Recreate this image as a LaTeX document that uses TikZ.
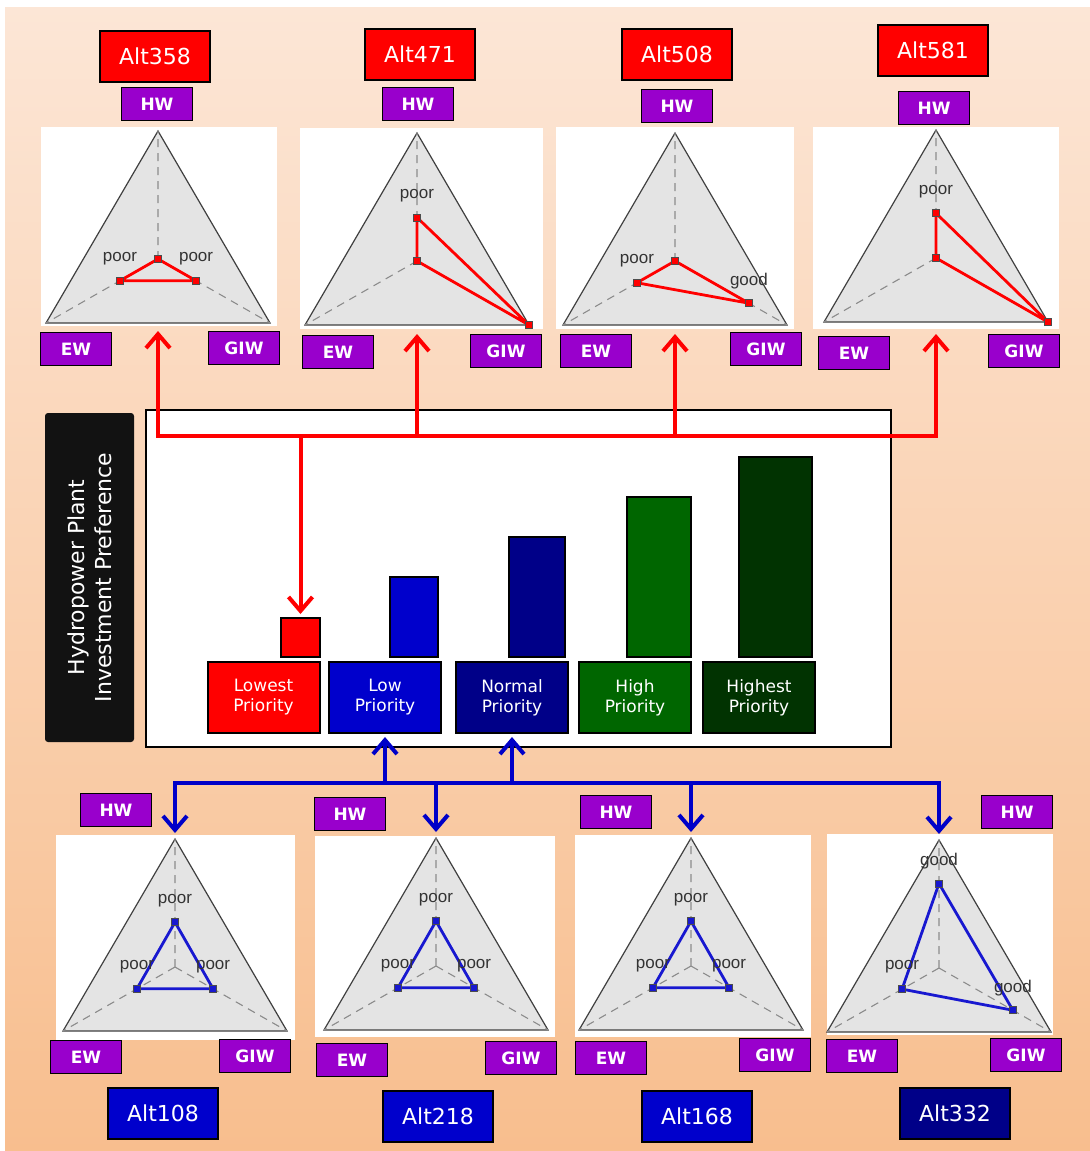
\documentclass[tikz,border=0pt]{standalone}
\usepackage{fontspec}
\setmainfont{DejaVu Sans}
\newfontfamily\radarfont{Liberation Sans}
\usetikzlibrary{arrows.meta,calc}
\definecolor{peachtop}{HTML}{FCE6D6}
\definecolor{peachbot}{HTML}{F8BE8E}
\definecolor{hwpurple}{HTML}{9900CC}
\definecolor{lowblue}{HTML}{0000CC}
\definecolor{navyblue}{HTML}{000088}
\definecolor{hgreen}{HTML}{006600}
\definecolor{dgreen}{HTML}{013301}
\definecolor{trigray}{HTML}{E4E4E4}
\definecolor{linkblue}{HTML}{0000C8}
\definecolor{labelblack}{HTML}{121212}
\definecolor{polyblue}{HTML}{1818D0}
\tikzset{
  altbox/.style={draw=black, line width=1pt, text=white, minimum width=55pt, minimum height=25.5pt, inner sep=0pt, font=\fontsize{11}{13}\selectfont},
  axisbox/.style={draw=black, line width=0.9pt, fill=hwpurple, text=white, minimum width=35.5pt, minimum height=16.5pt, inner sep=0pt, font=\bfseries\fontsize{8.5}{10}\selectfont},
  prbox/.style={draw=black, line width=1pt, text=white, minimum width=56pt, minimum height=35.5pt, inner sep=0pt, align=center, font=\fontsize{8.5}{10}\selectfont},
  barbox/.style={draw=black, line width=1pt, inner sep=0pt, anchor=south},
  tri/.style={fill=trigray, draw=black!75, line width=0.6pt},
  axisline/.style={draw=black!45, line width=0.55pt, dash pattern=on 4pt off 3pt},
  rlabel/.style={text=black!80, font=\radarfont\fontsize{8.5}{10}\selectfont, inner sep=0pt},
  marker/.style={draw=black!70, line width=0.4pt, minimum size=3.5pt, inner sep=0pt, rectangle},
  redlink/.style={draw=red, line width=2pt},
  bluelink/.style={draw=linkblue, line width=2pt},
  barb/.tip={Straight Barb[length=7pt,width=12pt]}
}
% name, apex x, apex y, panel left, panel top, panel right, panel bottom
\newcommand{\radar}[7]{%
  \fill[white] (#4,#5) rectangle (#6,#7);
  \coordinate (#1A) at (#2,#3);
  \coordinate (#1L) at ({#2-112},{#3+192});
  \coordinate (#1R) at ({#2+112},{#3+192});
  \coordinate (#1C) at (#2,{#3+128});
  \coordinate (#1top) at (#2,{#3-6});
  \coordinate (#1bot) at (#2,{#7+5});
  \filldraw[tri] (#1A) -- (#1L) -- (#1R) -- cycle;
  \draw[axisline] (#1C) -- (#1A) (#1C) -- (#1L) (#1C) -- (#1R);
}
% name, colour, HW, EW, GIW fractions
\newcommand{\radarpoly}[5]{%
  \coordinate (#1h) at ($(#1C)!#3!(#1A)$);
  \coordinate (#1e) at ($(#1C)!#4!(#1L)$);
  \coordinate (#1g) at ($(#1C)!#5!(#1R)$);
  \draw[#2, line width=1.4pt, line join=round] (#1h) -- (#1e) -- (#1g) -- cycle;
  \node[marker, fill=#2] (#1mh) at (#1h) {};
  \node[marker, fill=#2] (#1me) at (#1e) {};
  \node[marker, fill=#2] (#1mg) at (#1g) {};
}
\begin{document}
\begin{tikzpicture}[x=0.5pt,y=-0.5pt]
\useasboundingbox (0,0) rectangle (1090,1151);
\fill[white] (0,0) rectangle (1090,1151);
\shade[top color=peachtop,bottom color=peachbot] (5,7) rectangle (1090,1151);

% left title
\node[rotate=90, fill=labelblack, rounded corners=1.5pt, minimum width=164.5pt, minimum height=44.5pt, text=white, align=center, font=\fontsize{11}{13.5}\selectfont] (title) at (89.5,577.5) {Hydropower Plant\\Investment Preference};

% chart box
\node[draw=black, line width=1pt, fill=white, minimum width=372.5pt, minimum height=168.5pt] (chart) at (518.5,578.5) {};

% bars
\node[barbox, fill=red, minimum width=19.5pt, minimum height=19.5pt] (bar1) at (300.5,658) {};
\node[barbox, fill=lowblue, minimum width=24pt, minimum height=40pt] (bar2) at (414,658) {};
\node[barbox, fill=navyblue, minimum width=28pt, minimum height=60pt] (bar3) at (537,658) {};
\node[barbox, fill=hgreen, minimum width=32pt, minimum height=80pt] (bar4) at (659,658) {};
\node[barbox, fill=dgreen, minimum width=36.5pt, minimum height=100pt] (bar5) at (775.5,658) {};

\node[prbox, fill=red] (lab1) at (263.5,697.5) {Lowest\\Priority};
\node[prbox, fill=lowblue] (lab2) at (385,697.5) {Low\\Priority};
\node[prbox, fill=navyblue] (lab3) at (512,697.5) {Normal\\Priority};
\node[prbox, fill=hgreen] (lab4) at (635,697.5) {High\\Priority};
\node[prbox, fill=dgreen] (lab5) at (759,697.5) {Highest\\Priority};

% top radars
\radar{T1}{158}{131}{41}{127}{277}{326}
\radar{T2}{417}{133}{300}{128}{543}{329}
\radar{T3}{675}{133}{556}{127}{794}{329}
\radar{T4}{936}{130}{813}{127}{1059}{329}
\radarpoly{T1}{red}{0}{0.34}{0.34}
\radarpoly{T2}{red}{0.34}{0}{1}
\radarpoly{T3}{red}{0}{0.34}{0.66}
\radarpoly{T4}{red}{0.35}{0}{1}
\node[rlabel] (T1le) at ($(T1e)+(0,-22)$) {poor};
\node[rlabel] (T1lg) at ($(T1g)+(0,-22)$) {poor};
\node[rlabel] (T2lh) at ($(T2h)+(0,-22)$) {poor};
\node[rlabel] (T3le) at ($(T3e)+(0,-22)$) {poor};
\node[rlabel] (T3lg) at ($(T3g)+(0,-22)$) {good};
\node[rlabel] (T4lh) at ($(T4h)+(0,-22)$) {poor};

% bottom radars
\radar{B1}{175}{839}{56}{835}{295}{1040}
\radar{B2}{436}{838}{315}{836}{555}{1037}
\radar{B3}{691}{838}{575}{835}{811}{1037}
\radar{B4}{939}{840}{827}{834}{1053}{1035}
\radarpoly{B1}{polyblue}{0.35}{0.34}{0.34}
\radarpoly{B2}{polyblue}{0.35}{0.34}{0.34}
\radarpoly{B3}{polyblue}{0.35}{0.34}{0.34}
\radarpoly{B4}{polyblue}{0.66}{0.33}{0.66}
\foreach \r in {B1,B2,B3}{
  \node[rlabel] at ($(\r h)+(0,-22)$) {poor};
  \node[rlabel] at ($(\r e)+(0,-22)$) {poor};
  \node[rlabel] at ($(\r g)+(0,-22)$) {poor};
}
\node[rlabel] (B4lh) at ($(B4h)+(0,-22)$) {good};
\node[rlabel] (B4le) at ($(B4e)+(0,-22)$) {poor};
\node[rlabel] (B4lg) at ($(B4g)+(0,-22)$) {good};

% top labels
\node[altbox, fill=red] (a358) at (155,56) {Alt358};
\node[altbox, fill=red] (a471) at (420,54) {Alt471};
\node[altbox, fill=red] (a508) at (677,54) {Alt508};
\node[altbox, fill=red] (a581) at (933,50) {Alt581};
\node[axisbox] (t1hw) at (157,104) {HW};
\node[axisbox] (t2hw) at (418,104) {HW};
\node[axisbox] (t3hw) at (677,106) {HW};
\node[axisbox] (t4hw) at (934,108) {HW};
\node[axisbox] (t1ew) at (76,349) {EW};
\node[axisbox] (t2ew) at (338,352) {EW};
\node[axisbox] (t3ew) at (596,351) {EW};
\node[axisbox] (t4ew) at (854,353) {EW};
\node[axisbox] (t1giw) at (244,348) {GIW};
\node[axisbox] (t2giw) at (506,351) {GIW};
\node[axisbox] (t3giw) at (766,349) {GIW};
\node[axisbox] (t4giw) at (1024,351) {GIW};

% bottom labels
\node[axisbox] (b1hw) at (116,810) {HW};
\node[axisbox] (b2hw) at (350,814) {HW};
\node[axisbox] (b3hw) at (616,812) {HW};
\node[axisbox] (b4hw) at (1017,812) {HW};
\node[axisbox] (b1ew) at (86,1057) {EW};
\node[axisbox] (b2ew) at (352,1060) {EW};
\node[axisbox] (b3ew) at (611,1058) {EW};
\node[axisbox] (b4ew) at (862,1056) {EW};
\node[axisbox] (b1giw) at (255,1056) {GIW};
\node[axisbox] (b2giw) at (521,1058) {GIW};
\node[axisbox] (b3giw) at (775,1055) {GIW};
\node[axisbox] (b4giw) at (1026,1055) {GIW};
\node[altbox, fill=lowblue] (a108) at (163,1113) {Alt108};
\node[altbox, fill=lowblue] (a218) at (438,1116) {Alt218};
\node[altbox, fill=lowblue] (a168) at (697,1116) {Alt168};
\node[altbox, fill=navyblue] (a332) at (955,1113) {Alt332};

% red connectors
\coordinate (rbus) at (0,436);
\draw[redlink, barb-barb, line join=miter] (T1bot) -- (T1bot |- rbus) -- (T4bot |- rbus) -- (T4bot);
\draw[redlink, -barb] (T2bot |- rbus) -- (T2bot);
\draw[redlink, -barb] (T3bot |- rbus) -- (T3bot);
\draw[redlink, -barb] (bar1.north |- rbus) -- ($(bar1.north)+(0,-3)$);

% blue connectors
\coordinate (bbus) at (0,783);
\draw[bluelink, barb-barb, line join=miter] (B1top) -- (B1top |- bbus) -- (B4top |- bbus) -- (B4top);
\draw[bluelink, -barb] (B2top |- bbus) -- (B2top);
\draw[bluelink, -barb] (B3top |- bbus) -- (B3top);
\draw[bluelink, -barb] (lab2.south |- bbus) -- ($(lab2.south)+(0,3)$);
\draw[bluelink, -barb] (lab3.south |- bbus) -- ($(lab3.south)+(0,3)$);
\end{tikzpicture}
\end{document}
